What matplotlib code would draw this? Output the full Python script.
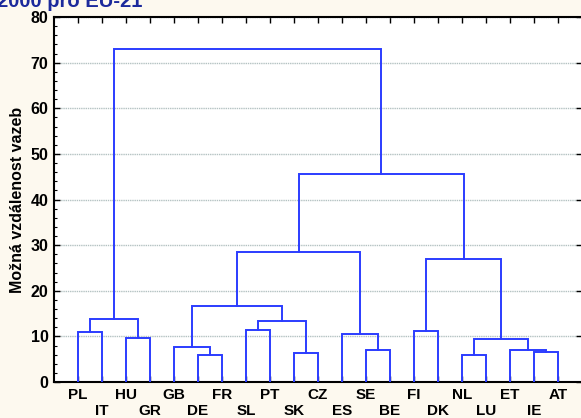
import matplotlib.pyplot as plt
import numpy as np

# 21 zemí v pořadí listů dendrogramu
leaves = ['PL', 'IT', 'HU', 'GR', 'GB', 'DE', 'FR', 'SL', 'PT', 'SK', 'CZ',
          'ES', 'SE', 'BE', 'FI', 'DK', 'NL', 'LU', 'ET', 'IE', 'AT']

# spojování shluků: (levý, pravý, vzdálenost); nové shluky mají id 21, 22, ...
merge_left = [0, 2, 21, 5, 4, 7, 9, 26, 25, 12, 11, 29, 14, 16, 19, 18, 34, 33, 32, 23]
merge_right = [1, 3, 22, 6, 24, 8, 10, 27, 28, 13, 30, 31, 15, 17, 20, 35, 36, 37, 38, 39]
merge_dist = [10.9, 9.7, 13.9, 6.0, 7.7, 11.3, 6.3, 13.3, 16.7, 7.1,
              10.6, 28.4, 11.2, 6.0, 6.5, 7.0, 9.5, 26.9, 45.5, 72.9]

plt.rcParams['font.family'] = ['Liberation Sans Narrow', 'Liberation Sans', 'DejaVu Sans']

fig = plt.figure(figsize=(5.81, 4.18), dpi=100, facecolor='#fdf9ef')
ax = fig.add_axes([54 / 581, 36 / 418, 528 / 581, 365 / 418])
ax.set_facecolor('white')

n = len(leaves)
pos = {i: i + 1.0 for i in range(n)}
hgt = {i: 0.0 for i in range(n)}
line_col = '#2b3cff'
for k, (a, b, d) in enumerate(zip(merge_left, merge_right, merge_dist)):
    xa, xb = pos[a], pos[b]
    ax.plot([xa, xa, xb, xb], [hgt[a], d, d, hgt[b]], color=line_col, lw=1.4,
            solid_joinstyle='miter', zorder=3)
    pos[n + k] = (xa + xb) / 2
    hgt[n + k] = d

ax.set_xlim(0, n + 1)
ax.set_ylim(0, 80)

# popisky ve dvou řadách
xs = np.arange(1, n + 1)
ax.set_xticks(xs[0::2], leaves[0::2])
ax.set_xticks(xs[1::2], leaves[1::2], minor=True)
ax.tick_params(axis='x', which='both', direction='in', length=4, top=True,
               labelsize=11, width=1)
ax.tick_params(axis='x', which='major', pad=4)
ax.tick_params(axis='x', which='minor', pad=16)

ax.set_yticks(np.arange(0, 81, 10))
ax.set_yticks(np.arange(0, 81, 2), minor=True)
ax.tick_params(axis='y', which='major', direction='in', length=4, right=True,
               labelsize=11.5, pad=4, width=1)
ax.tick_params(axis='y', which='minor', direction='in', length=2.5, width=0.8)

for lab in ax.get_xticklabels(which='both') + ax.get_yticklabels():
    lab.set_fontweight('bold')

ax.grid(axis='y', which='major', color='#b4c2c2', lw=1, ls=(0, (1, 0.6)), zorder=1)

for side in ['left', 'bottom', 'top']:
    ax.spines[side].set_linewidth(1.5)
ax.spines['right'].set_visible(False)

ax.set_ylabel('Možná vzdálenost vazeb', fontsize=11.5, fontweight='bold', labelpad=4)

fig.text(-0.005, 0.983, '2000 pro EU-21', fontsize=14.5, fontweight='bold',
         color='#1c2a9c', va='baseline', ha='left', family='Liberation Sans')

fig.savefig('out.png', dpi=100, facecolor=fig.get_facecolor())
